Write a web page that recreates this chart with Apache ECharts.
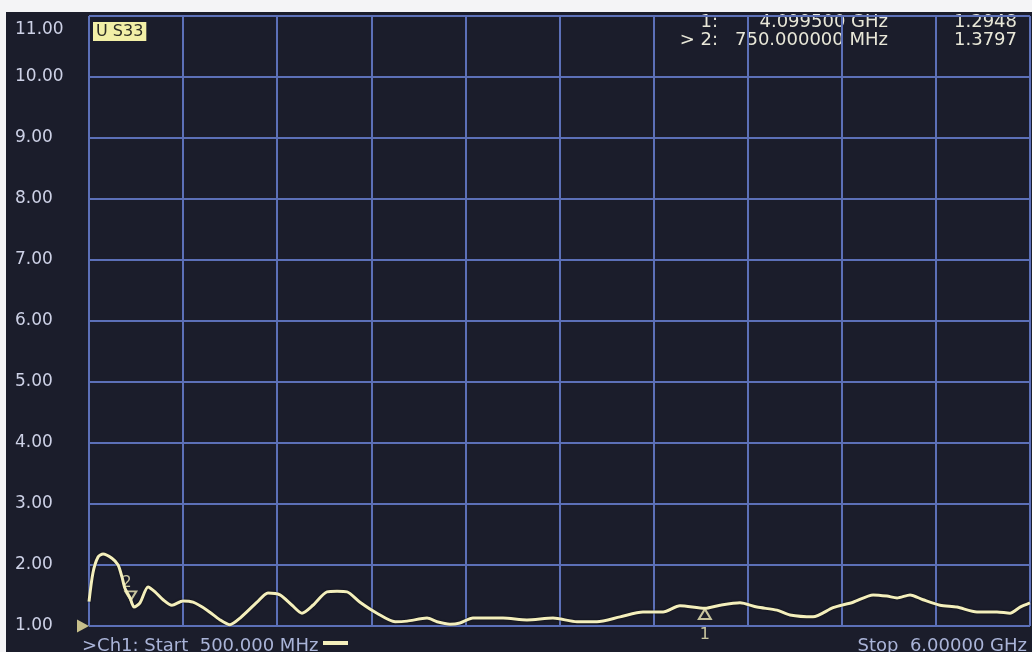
<!DOCTYPE html>
<html>
<head>
<meta charset="utf-8">
<script src="https://cdn.jsdelivr.net/npm/echarts@6/dist/echarts.min.js"></script>
<style>
  html, body { margin: 0; padding: 0; background: #f4f4f6; }
  #chart { position: absolute; left: 6px; top: 12px; width: 1026px; height: 640px; }
</style>
</head>
<body>
<div id="chart"></div>
<script>
// S33 sweep
const startMHz = 500;
const stopMHz = 6000;

const freqMHz = [500, 523, 553, 582, 634, 670, 693, 710, 740, 750,
  763, 798, 845, 886, 933, 985, 1049, 1108, 1190, 1266,
  1324, 1383, 1482, 1546, 1616, 1687, 1745, 1809, 1891, 1950,
  2008, 2084, 2183, 2289, 2359, 2476, 2534, 2610, 2668, 2744,
  2920, 3060, 3212, 3352, 3469, 3604, 3738, 3855, 3954, 4099.5,
  4188, 4305, 4404, 4521, 4597, 4732, 4849, 4966, 5083, 5164,
  5223, 5299, 5375, 5474, 5573, 5690, 5807, 5883, 5942, 6000];

const vswr = [1.40, 1.87, 2.13, 2.18, 2.11, 2.00, 1.80, 1.62, 1.46, 1.38,
  1.31, 1.38, 1.64, 1.56, 1.43, 1.34, 1.41, 1.39, 1.26, 1.10,
  1.02, 1.13, 1.39, 1.54, 1.51, 1.34, 1.21, 1.34, 1.56, 1.57,
  1.56, 1.39, 1.21, 1.07, 1.08, 1.13, 1.07, 1.03, 1.05, 1.13,
  1.13, 1.10, 1.13, 1.07, 1.07, 1.15, 1.23, 1.23, 1.33, 1.29,
  1.34, 1.38, 1.31, 1.26, 1.18, 1.15, 1.30, 1.39, 1.51, 1.49,
  1.46, 1.51, 1.43, 1.34, 1.31, 1.23, 1.23, 1.21, 1.31, 1.38];

// markers
const markerNames = ['1', '2'];
const markerFreqMHz = [4099.5, 750];
const markerVals = [1.2948, 1.3797];
const activeMarker = 1;

const yMin = 1, yMax = 11, yStep = 1;
const divisions = 10;

const traceColor = '#f4efbc';
const gridColor = '#5c70b8';
const screenColor = '#1b1d2b';
const labelColor = '#cdd1e6';
const font = '"DejaVu Sans", sans-serif';

// x axis runs from 0 (= start freq) so the 10 divisions line up from min
function toX(f) {
  return f - startMHz;
}

function fmtFreq(f) {
  if (f >= 1000) return (f / 1000).toFixed(6) + ' GHz';
  return f.toFixed(6) + ' MHz';
}

var traceData = freqMHz.map((f, i) => [toX(f), vswr[i]]);

var chart = echarts.init(document.getElementById('chart'));

var readouts = [];
markerNames.forEach((name, i) => {
  let y = 10 + i * 18;
  let prefix = (i == activeMarker ? '> ' : '') + name + ':';
  readouts.push(
    { type: 'text', right: 1026 - 712, top: y - 9, style: { text: prefix, fill: '#e8e7d8', font: '18px ' + font } },
    { type: 'text', right: 1026 - 882, top: y - 9, style: { text: fmtFreq(markerFreqMHz[i]), fill: '#e8e7d8', font: '18px ' + font } },
    { type: 'text', right: 1026 - 1011, top: y - 9, style: { text: markerVals[i].toFixed(4), fill: '#e8e7d8', font: '18px ' + font } }
  );
});

var option = {
  backgroundColor: screenColor,
  animation: false,
  grid: { left: 83, top: 4, width: 941, height: 610, containLabel: false },
  xAxis: {
    type: 'value',
    min: 0,
    max: toX(stopMHz),
    interval: (stopMHz - startMHz) / divisions,
    axisLine: { show: false },
    axisTick: { show: false },
    axisLabel: { show: false },
    splitLine: { show: true, lineStyle: { color: gridColor, width: 2 } }
  },
  yAxis: {
    type: 'value',
    min: yMin,
    max: yMax,
    interval: yStep,
    axisLine: { show: false },
    axisTick: { show: false },
    axisLabel: {
      color: labelColor,
      fontFamily: font,
      fontSize: 17,
      align: 'left',
      margin: 74,
      verticalAlignMaxLabel: 'top',
      // top label sits a bit below the top line on the screen
      formatter: v => v === yMax ? '{top|' + v.toFixed(2) + '}' : v.toFixed(2),
      rich: {
        top: { color: labelColor, fontFamily: font, fontSize: 17, padding: [5, 0, 0, 0] }
      }
    },
    splitLine: { show: true, lineStyle: { color: gridColor, width: 2 } }
  },
  series: [
    {
      type: 'line',
      data: traceData,
      showSymbol: false,
      smooth: 0.25,
      clip: false,
      lineStyle: { color: traceColor, width: 3, shadowColor: 'rgba(0,0,0,0.7)', shadowBlur: 2 },
      z: 3
    },
    {
      // marker 1 : triangle under the trace, name below the axis
      type: 'scatter',
      clip: false,
      data: [[toX(markerFreqMHz[0]), markerVals[0]]],
      symbol: 'triangle',
      symbolSize: [12, 10],
      symbolOffset: [0, 6],
      itemStyle: { color: 'rgba(0,0,0,0)', borderColor: traceColor, borderWidth: 2 },
      label: { show: true, position: 'bottom', distance: 7, formatter: markerNames[0], color: traceColor, fontFamily: font, fontSize: 16 },
      z: 4
    },
    {
      // marker 2 (active) : triangle above the trace
      type: 'scatter',
      clip: false,
      data: [[toX(markerFreqMHz[1]), markerVals[1]]],
      symbol: 'triangle',
      symbolRotate: 180,
      symbolSize: [11, 9],
      symbolOffset: [-1, -7],
      itemStyle: { color: 'rgba(0,0,0,0)', borderColor: traceColor, borderWidth: 2 },
      label: { show: true, position: 'top', distance: 0, offset: [-4, 0], formatter: markerNames[1], color: traceColor, fontFamily: font, fontSize: 15 },
      z: 4
    },
    {
      // reference level pointer on the left
      type: 'scatter',
      clip: false,
      silent: true,
      data: [[0, yMin]],
      symbol: 'triangle',
      symbolRotate: -90,
      symbolSize: [13, 12],
      symbolOffset: [-6, 0],
      itemStyle: { color: '#f3e9a4' },
      z: 4
    }
  ],
  graphic: [
    {
      type: 'text', left: 87, top: 10,
      style: {
        text: 'U S33', fill: '#2c2c24', font: '16px ' + font,
        backgroundColor: '#f2efa6', padding: [2, 3, 1, 3]
      }
    },
    ...readouts,
    {
      type: 'text', left: 76, top: 625,
      style: { text: '>Ch1: Start  500.000 MHz', fill: '#aab4d8', font: '18px ' + font }
    },
    {
      type: 'rect', left: 317, top: 629,
      shape: { width: 25, height: 4 },
      style: { fill: traceColor }
    },
    {
      type: 'text', right: 5, top: 625,
      style: { text: 'Stop  6.00000 GHz', fill: '#aab4d8', font: '18px ' + font }
    }
  ]
};

chart.setOption(option);
</script>
</body>
</html>
